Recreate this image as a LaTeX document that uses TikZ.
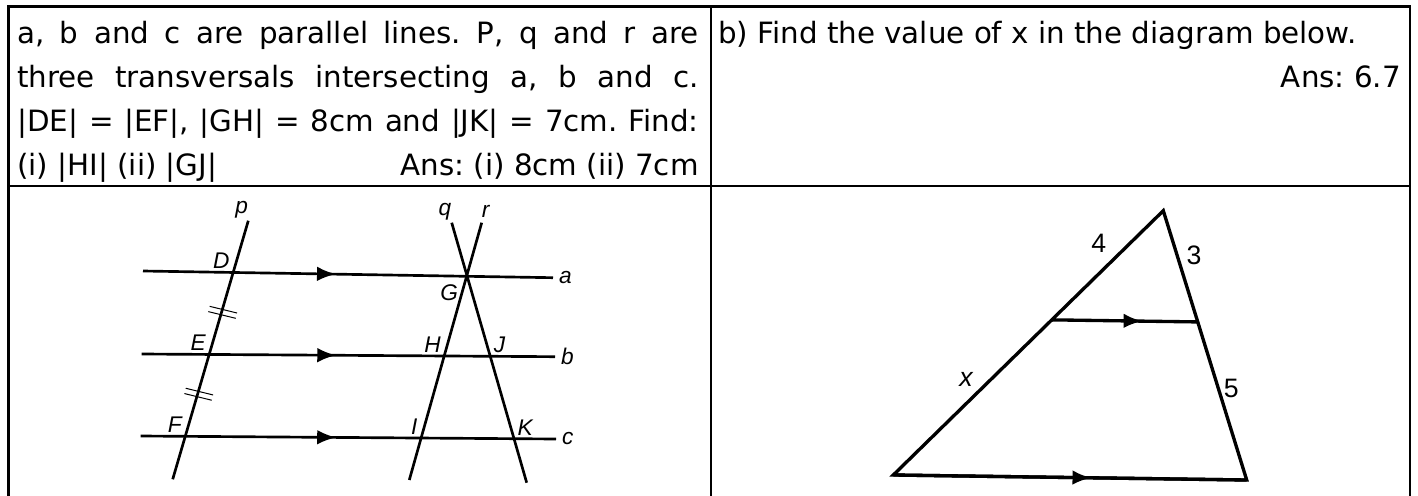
\documentclass[tikz,border=0pt]{standalone}
\usepackage{fontspec}
\setmainfont{DejaVu Sans}
\newfontfamily\figfont{Liberation Sans}
\usepackage{tikz}
\usetikzlibrary{arrows.meta, positioning, calc, decorations.markings}
\tolerance=9999
\hbadness=10000
\frenchspacing

\begin{document}
\begin{tikzpicture}[
    x=0.75pt, y=-0.75pt,
    frame/.style={line width=2pt},
    divider/.style={line width=1.5pt},
    cellfont/.style={inner sep=0pt, font=\fontsize{22}{33.2}\selectfont},
    celltext/.style={cellfont, text width=511pt, align=justify},
    geo/.style={line width=2pt},
    tri/.style={line width=2.5pt, line join=miter},
    parline/.style={postaction={decorate}, decoration={markings, mark=at position #1 with {\arrow{Latex[length=14pt, width=11pt]}}}},
    tick/.style={line width=0.75pt},
    ptlabel/.style={font=\figfont\itshape\fontsize{17}{17}\selectfont, inner sep=2.5pt},
    sidelabel/.style={font=\figfont\fontsize{20}{20}\selectfont, inner sep=2pt}
]
\useasboundingbox (0,0) rectangle (1418,496);

% table
\draw[frame] (8.5,496) -- (8.5,6.5) -- (1410,6.5) -- (1410,496);
\draw[divider] (710.7,6.5) -- (710.7,496);
\draw[divider] (8.5,186) -- (1410,186);

\node[celltext, anchor=base west] (qa) at (17,43) {a, b and c are parallel lines. P, q and r are\linebreak three transversals intersecting a, b and c.\linebreak |DE| = |EF|, |GH| = 8cm and |JK| = 7cm. Find:\linebreak (i) |HI| (ii) |GJ|\hskip 0pt plus 1filll Ans: (i) 8cm (ii) 7cm};
\node[cellfont, anchor=base west] (qb) at (718,43) {b) Find the value of x in the diagram below.};
\node[cellfont, anchor=base east] (ansb) at (1401,87) {Ans: 6.7};

% parallel lines and transversals
\coordinate (a0) at (143,271);   \coordinate (a1) at (553,277.7);
\coordinate (b0) at (141.7,354); \coordinate (b1) at (555,356.7);
\coordinate (c0) at (140.7,436); \coordinate (c1) at (556,439);
\coordinate (p0) at (248.3,220.7); \coordinate (p1) at (172.7,479.3);
\coordinate (q0) at (451.7,222.7); \coordinate (q1) at (526.7,482.7);
\coordinate (r0) at (481.7,222.7); \coordinate (r1) at (409.3,480);

\coordinate (D) at (intersection of p0--p1 and a0--a1);
\coordinate (E) at (intersection of p0--p1 and b0--b1);
\coordinate (F) at (intersection of p0--p1 and c0--c1);
\coordinate (G) at (intersection of q0--q1 and r0--r1);
\coordinate (H) at (intersection of r0--r1 and b0--b1);
\coordinate (I) at (intersection of r0--r1 and c0--c1);
\coordinate (J) at (intersection of q0--q1 and b0--b1);
\coordinate (K) at (intersection of q0--q1 and c0--c1);

\foreach \l in {a,b,c}
    \draw[geo, parline=0.47] (\l0) -- (\l1) node[ptlabel, right=1pt] (lab\l) {\l};
\draw[geo] (p0) -- (p1);
\draw[geo] (q0) -- (q1);
\draw[geo] (r0) -- (r1);
\node[ptlabel, above=-1pt, xshift=-5pt] (labp) at (p0) {p};
\node[ptlabel, above=-1pt, xshift=-5pt] (labq) at (q0) {q};
\node[ptlabel, above=1pt, xshift=3pt] (labr) at (r0) {r};

\foreach \v in {D,E,F,H,I}
    \node[ptlabel, above left] (lab\v) at (\v) {\v};
\foreach \v in {J,K}
    \node[ptlabel, above right] (lab\v) at (\v) {\v};
\node[ptlabel, below left=4pt and 4pt] (labG) at (G) {G};

% equal segments
\coordinate (mDE) at ($(D)!0.5!(E)$);
\coordinate (mEF) at ($(E)!0.5!(F)$);
\foreach \m in {mDE,mEF}
    \foreach \s in {-1,1}
        \draw[tick] ($(\m)+\s*(-0.65,2.65)+(-12.2,-4.5)$) -- ++(27.4,6.7);

% triangle
\coordinate (A) at (1163.3,210.7);
\coordinate (B) at (893.3,475);
\coordinate (C) at (1246.7,480);
\coordinate (P) at ($(A)!0.413!(B)$);
\coordinate (Q) at ($(A)!0.413!(C)$);

\draw[tri] (A) -- (B) -- (C) -- cycle;
\draw[tri, parline=0.56] (B) -- (C);
\draw[tri, parline=0.62] (P) -- (Q);

\path (A) -- (P) node[sidelabel, pos=0.45, above left=3pt and 3pt] (l4) {4};
\path (A) -- (Q) node[sidelabel, pos=0.4, right=5pt] (l3) {3};
\path (P) -- (B) node[sidelabel, pos=0.464, above left=2pt and 2pt] (lx) {\itshape x};
\path (Q) -- (C) node[sidelabel, pos=0.42, right=2pt] (l5) {5};

\end{tikzpicture}
\end{document}
